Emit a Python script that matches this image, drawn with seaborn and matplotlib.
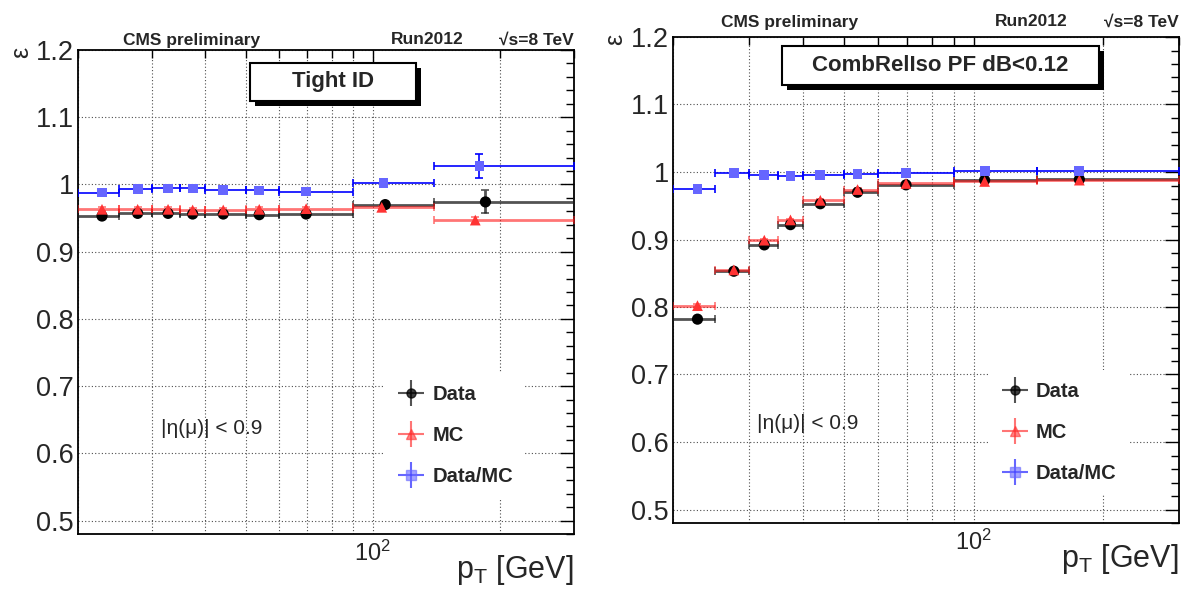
import numpy as np
import pandas as pd
import matplotlib
matplotlib.use("Agg")
import matplotlib.pyplot as plt
import seaborn as sns
from matplotlib.ticker import MultipleLocator, LogLocator, NullFormatter, FuncFormatter
from matplotlib.patches import Rectangle
from matplotlib.container import ErrorbarContainer
from matplotlib.legend_handler import HandlerErrorbar

# pT bins (GeV), same for both panels
BIN_EDGES = [20, 25, 30, 35, 40, 50, 60, 90, 140, 300]

# left panel: Tight ID
tight_data_pt = [22.8, 27.7, 32.7, 37.4, 44.2, 53.8, 69.5, 107, 185]
tight_data_eff = [0.953, 0.957, 0.957, 0.956, 0.956, 0.955, 0.956, 0.970, 0.974]
tight_data_err = [0.002, 0.002, 0.002, 0.002, 0.002, 0.002, 0.002, 0.003, 0.017]
tight_mc_pt = [22.8, 27.7, 32.7, 37.4, 44.2, 53.8, 69.5, 105, 175]
tight_mc_eff = [0.963, 0.963, 0.963, 0.962, 0.962, 0.963, 0.964, 0.966, 0.947]
tight_mc_err = [0.003, 0.003, 0.003, 0.003, 0.003, 0.003, 0.003, 0.002, 0.004]
tight_ratio_pt = [22.8, 27.7, 32.7, 37.4, 44.2, 53.8, 69.5, 106, 179]
tight_ratio = [0.988, 0.9935, 0.994, 0.994, 0.992, 0.991, 0.9895, 1.0025, 1.027]
tight_ratio_err = [0.002, 0.002, 0.002, 0.002, 0.002, 0.002, 0.002, 0.003, 0.018]

# right panel: isolation
iso_pt = [22.8, 27.7, 32.6, 37.5, 44.0, 53.7, 69.6, 106, 176]
iso_data_eff = [0.782, 0.853, 0.892, 0.922, 0.953, 0.970, 0.981, 0.988, 0.989]
iso_mc_eff = [0.802, 0.855, 0.899, 0.929, 0.958, 0.974, 0.983, 0.986, 0.988]
iso_ratio = [0.975, 0.998, 0.995, 0.994, 0.996, 0.997, 0.999, 1.001, 1.001]
iso_err = [0.002, 0.002, 0.002, 0.002, 0.002, 0.002, 0.001, 0.001, 0.001]

STYLE = {
    "Data": dict(line="#1a1a1a", lw=2.0, alpha=0.75, marker="o", mcolor="black", s=65),
    "MC": dict(line="#ff1a1a", lw=2.0, alpha=0.6, marker="^", mcolor="#ff3333", s=60),
    "Data/MC": dict(line="#0000ff", lw=1.2, alpha=1.0, marker="s", mcolor="#6666ff", s=50),
}

sns.set_theme(style="white")
plt.rcParams["font.family"] = ["Liberation Sans", "DejaVu Sans"]
plt.rcParams["mathtext.default"] = "regular"

W, H = 1182, 590
fig = plt.figure(figsize=(W / 100, H / 100), dpi=100)


def px_axes(x0, y0, x1, y1):
    return fig.add_axes([x0 / W, 1 - y1 / H, (x1 - x0) / W, (y1 - y0) / H])


def draw_series(ax, pt, eff, err, name):
    st = STYLE[name]
    lo = np.array(BIN_EDGES[:-1])
    hi = np.array(BIN_EDGES[1:])
    pt = np.array(pt)
    ax.errorbar(pt, eff, xerr=[pt - lo, hi - pt], yerr=err, fmt="none",
                ecolor=st["line"], elinewidth=st["lw"], alpha=st["alpha"],
                capsize=3, capthick=1.2, zorder=3)
    df = pd.DataFrame({"pt": pt, "eff": eff})
    sns.scatterplot(data=df, x="pt", y="eff", marker=st["marker"], color=st["mcolor"],
                    s=st["s"], edgecolor="none", ax=ax, zorder=4, legend=False)


def legend_handle(ax, name):
    st = STYLE[name]
    return ax.errorbar([np.nan], [np.nan], xerr=[1], yerr=[1], fmt=st["marker"],
                       color=st["mcolor"], markersize=6.5, ecolor=st["line"],
                       elinewidth=1.5, alpha=st["alpha"] if name != "Data/MC" else 0.6,
                       capsize=0, label=name)


def style_axes(ax):
    ax.set_xscale("log")
    ax.set_xlim(20, 300)
    ax.set_ylim(0.48, 1.2)
    ax.set_xlabel("")
    ax.set_ylabel("")
    ax.yaxis.set_major_locator(MultipleLocator(0.1))
    ax.yaxis.set_minor_locator(MultipleLocator(0.02))
    ax.yaxis.set_major_formatter(FuncFormatter(lambda v, p: f"{v:g}"))
    ax.xaxis.set_major_locator(LogLocator(base=10))
    ax.xaxis.set_minor_locator(LogLocator(base=10, subs=np.arange(2, 10)))
    ax.xaxis.set_minor_formatter(NullFormatter())
    ax.xaxis.set_major_formatter(FuncFormatter(lambda v, p: "$10^{%d}$" % round(np.log10(v))))
    ax.set_axisbelow(True)
    ax.grid(True, which="major", axis="both", ls=(0, (1, 2)), color="0.3", lw=0.8)
    ax.grid(True, which="minor", axis="x", ls=(0, (1, 2)), color="0.3", lw=0.8)
    ax.tick_params(which="both", direction="in", top=True, right=True, color="black", width=1)
    ax.tick_params(which="major", length=10)
    ax.tick_params(which="minor", length=5.5)
    ax.tick_params(axis="y", which="major", labelsize=19.5, pad=3)
    ax.tick_params(axis="x", which="major", labelsize=17, pad=5)
    for sp in ax.spines.values():
        sp.set_color("black")
        sp.set_linewidth(1.3)
    ax.set_ylabel("ε", fontsize=18, rotation=90, va="center", ha="center")
    ax.yaxis.set_label_coords(-0.115, 0.995)
    ax.set_xlabel("p$_T$ [GeV]", fontsize=22, ha="right", va="center")
    ax.xaxis.set_label_coords(1.0, -0.075)


def title_box(x0, y0, x1, y1, text):
    sh = 5
    fig.add_artist(Rectangle(((x0 + sh) / W, 1 - (y1 + sh) / H), (x1 - x0) / W, (y1 - y0) / H,
                             transform=fig.transFigure, facecolor="black", edgecolor="none"))
    fig.add_artist(Rectangle((x0 / W, 1 - y1 / H), (x1 - x0) / W, (y1 - y0) / H,
                             transform=fig.transFigure, facecolor="white",
                             edgecolor="black", lw=1.5))
    fig.text((x0 + x1) / 2 / W, 1 - (y0 + y1) / 2 / H, text, ha="center", va="center",
             fontsize=16, fontweight="bold")


def header(ax_x0, ax_x1, y, cms_x, run_x):
    kw = dict(fontsize=12.5, fontweight="bold", va="center")
    fig.text(cms_x / W, 1 - y / H, "CMS preliminary", ha="center", **kw)
    fig.text(run_x / W, 1 - y / H, "Run2012", ha="center", **kw)
    fig.text(ax_x1 / W, 1 - y / H, "√s=8 TeV", ha="right", **kw)


panels = [
    dict(box=(78, 50, 574, 534), title=(250, 63, 416, 101, "Tight ID"),
         head=(40, 192, 427), eta=(0.27, 0.219), leg=(0.76, 0.203),
         series=[(tight_data_pt, tight_data_eff, tight_data_err, "Data"),
                 (tight_mc_pt, tight_mc_eff, tight_mc_err, "MC"),
                 (tight_ratio_pt, tight_ratio, tight_ratio_err, "Data/MC")]),
    dict(box=(673, 37, 1179, 523), title=(782, 46, 1099, 85, "CombRelIso PF dB<0.12"),
         head=(22, 790, 1031), eta=(0.267, 0.204), leg=(0.762, 0.186),
         series=[(iso_pt, iso_data_eff, iso_err, "Data"),
                 (iso_pt, iso_mc_eff, iso_err, "MC"),
                 (iso_pt, iso_ratio, iso_err, "Data/MC")]),
]

for p in panels:
    ax = px_axes(*p["box"])
    for pt, eff, err, name in p["series"]:
        draw_series(ax, pt, eff, err, name)
    style_axes(ax)
    ax.text(p["eta"][0], p["eta"][1], "|η(μ)| < 0.9", transform=ax.transAxes,
            fontsize=15, ha="center", va="center")
    handles = [legend_handle(ax, n) for n in ["Data", "MC", "Data/MC"]]
    leg = ax.legend(handles=handles, loc="center", bbox_to_anchor=p["leg"],
                    prop=dict(size=14.5, weight="bold"), frameon=True, fancybox=False,
                    framealpha=1, facecolor="white", edgecolor="none",
                    handlelength=1.4, handletextpad=0.35, labelspacing=1.1, borderpad=0.6,
                    handler_map={ErrorbarContainer: HandlerErrorbar(xerr_size=0.65)})
    leg.set_zorder(6)
    title_box(*p["title"])
    header(p["box"][0], p["box"][2], *p["head"])

fig.savefig("out.png", dpi=100)
